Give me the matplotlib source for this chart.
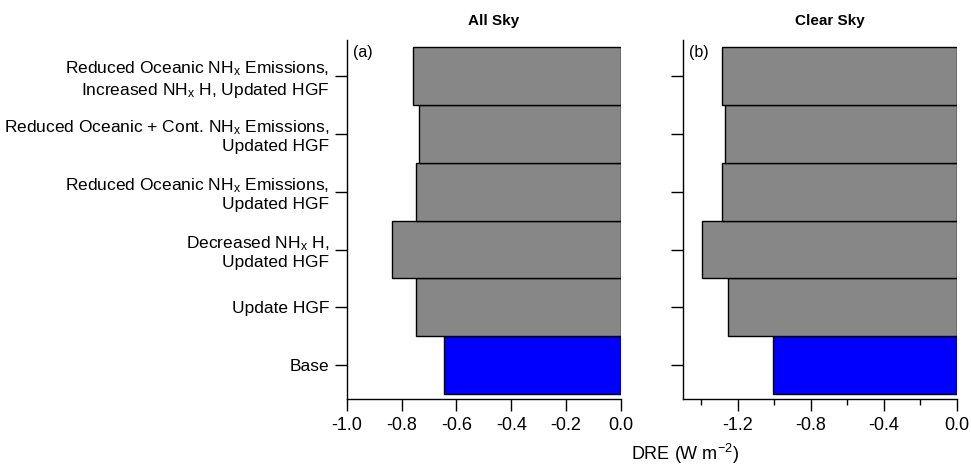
import matplotlib
matplotlib.use("Agg")
import matplotlib.pyplot as plt

plt.rcParams['font.family'] = ['Liberation Sans', 'DejaVu Sans']
plt.rcParams['mathtext.fontset'] = 'custom'
plt.rcParams['mathtext.rm'] = 'Liberation Sans'
plt.rcParams['mathtext.it'] = 'Liberation Sans:italic'
plt.rcParams['axes.unicode_minus'] = False

# categories, bottom to top
labels = [
    "Base",
    "Update HGF",
    "Decreased NH$_\\mathrm{x}$ H,\nUpdated HGF",
    "Reduced Oceanic NH$_\\mathrm{x}$ Emissions,\nUpdated HGF",
    "Reduced Oceanic + Cont. NH$_\\mathrm{x}$ Emissions,\nUpdated HGF",
    "Reduced Oceanic NH$_\\mathrm{x}$ Emissions,\nIncreased NH$_\\mathrm{x}$ H, Updated HGF",
]
all_sky = [-0.645, -0.746, -0.836, -0.747, -0.738, -0.757]
clear_sky = [-1.005, -1.253, -1.394, -1.285, -1.267, -1.286]
colors = ["#0000ff", "#878787", "#878787", "#878787", "#878787", "#878787"]

left_ticks = [-1.0, -0.8, -0.6, -0.4, -0.2, 0.0]
right_ticks = [-1.2, -0.8, -0.4, 0.0]
right_minor = [-1.4, -1.0, -0.6, -0.2]

fig = plt.figure(figsize=(9.71, 4.67), dpi=100)
ax1 = fig.add_axes([0.357, 0.1456, 0.2825, 0.7687])
ax2 = fig.add_axes([0.7031, 0.1456, 0.2822, 0.7687])

y = list(range(len(labels)))
for ax, vals in [(ax1, all_sky), (ax2, clear_sky)]:
    ax.barh(y, vals, height=1.0, color=colors, edgecolor="black", linewidth=1.0)
    ax.set_ylim(-0.58, 5.615)
    ax.spines["top"].set_visible(False)
    ax.spines["right"].set_visible(False)
    ax.spines["left"].set_linewidth(1.0)
    ax.spines["bottom"].set_linewidth(1.0)
    ax.set_yticks(y)
    ax.tick_params(axis="y", length=9, width=1.0, pad=3.5, labelsize=12.5)
    ax.tick_params(axis="x", which="major", length=8.3, width=1.0, pad=5, labelsize=13)
    ax.tick_params(axis="x", which="minor", length=4.5, width=1.0)

ax1.set_yticklabels(labels)
ax2.set_yticklabels([])

ax1.set_xlim(-1.0, 0.0)
ax1.set_xticks(left_ticks)
ax1.set_xticklabels(["%.1f" % v for v in left_ticks])

ax2.set_xlim(-1.5, 0.0)
ax2.set_xticks(right_ticks)
ax2.set_xticklabels(["%.1f" % v for v in right_ticks])
ax2.set_xticks(right_minor, minor=True)

ax1.text(0.535, 1.042, "All Sky", transform=ax1.transAxes, ha="center",
         va="baseline", fontsize=11, fontweight="bold")
ax2.text(0.5376, 1.042, "Clear Sky", transform=ax2.transAxes, ha="center",
         va="baseline", fontsize=11, fontweight="bold")

ax1.text(0.022, 0.985, "(a)", transform=ax1.transAxes, ha="left", va="top", fontsize=11.5)
ax2.text(0.022, 0.985, "(b)", transform=ax2.transAxes, ha="left", va="top", fontsize=11.5)

fig.text(0.7055, 1 - 460 / 467, "DRE (W m$^{\\mathregular{-2}}$)", ha="center",
         va="baseline", fontsize=13)

fig.savefig("out.png", dpi=100)
